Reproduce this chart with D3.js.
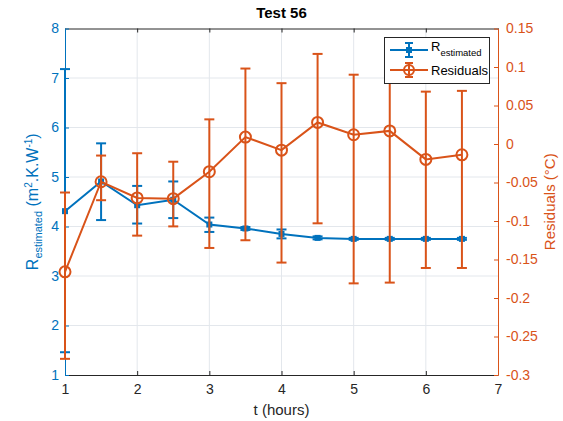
<!DOCTYPE html>
<html><head><meta charset="utf-8">
<script src="https://cdn.jsdelivr.net/npm/d3@7"></script>
<style>body{margin:0;background:#fff}svg{font-family:"Liberation Sans",Arial,sans-serif}</style>
</head><body><svg id="c" width="563" height="421"></svg>
<script>
const tHours = [1,1.5,2,2.5,3,3.5,4,4.5,5,5.5,6,6.5];
const rEst   = [4.31,4.91,4.43,4.54,4.04,3.96,3.85,3.77,3.75,3.75,3.75,3.75];
const rLow   = [1.46,4.13,4.06,4.17,3.89,3.93,3.76,3.74,3.73,3.73,3.73,3.73];
const rHigh  = [7.18,5.68,4.82,4.91,4.18,3.99,3.94,3.80,3.77,3.77,3.77,3.77];
const resid     = [-0.166,-0.049,-0.070,-0.071,-0.036,0.009,-0.008,0.028,0.012,0.017,-0.020,-0.014];
const residLow  = [-0.279,-0.073,-0.119,-0.107,-0.135,-0.125,-0.154,-0.103,-0.181,-0.180,-0.161,-0.161];
const residHigh = [-0.063,-0.015,-0.012,-0.023,0.032,0.098,0.079,0.117,0.090,0.090,0.068,0.069];
const xTicks = [1,2,3,4,5,6,7];
const yLeftTicks = [1,2,3,4,5,6,7,8];
const yRightTicks = [-0.3,-0.25,-0.2,-0.15,-0.1,-0.05,0,0.05,0.1,0.15];

const blue="#0072BD", orange="#D95319", dark="#262626";
const svg=d3.select("#c");
const L=65,R=498,T=28.5,B=375;
const x=d3.scaleLinear().domain([1,7]).range([L,R]);
const yL=d3.scaleLinear().domain([1,8]).range([B,T]);
const yR=d3.scaleLinear().domain([-0.3,0.15]).range([B,T]);

// grid
const g=svg.append("g");
g.selectAll(".gx").data(xTicks.slice(1,-1)).join("line").attr("x1",d=>x(d)).attr("x2",d=>x(d)).attr("y1",T).attr("y2",B).attr("stroke","#e3e7ec").attr("stroke-width",1);
g.selectAll(".gy").data(yLeftTicks.slice(1,-1)).join("line").attr("y1",d=>yL(d)).attr("y2",d=>yL(d)).attr("x1",L).attr("x2",R).attr("stroke","#e3e7ec").attr("stroke-width",1);

// axes
const xa=svg.append("g").attr("transform",`translate(0,${B})`).call(d3.axisBottom(x).tickValues(xTicks).tickFormat(d3.format("d")).tickSizeInner(-4).tickSizeOuter(0).tickPadding(9));
xa.select(".domain").attr("stroke",dark);
xa.selectAll("line").attr("stroke",dark);
xa.selectAll("text").attr("fill",dark).attr("font-size",14);
const xt=svg.append("g").attr("transform",`translate(0,${T})`).call(d3.axisTop(x).tickValues(xTicks).tickFormat("").tickSizeInner(-4).tickSizeOuter(0));
xt.select(".domain").attr("stroke",dark);
xt.selectAll("line").attr("stroke",dark);

const la=svg.append("g").attr("transform",`translate(${L},0)`).call(d3.axisLeft(yL).tickValues(yLeftTicks).tickFormat(d3.format("d")).tickSizeInner(-4).tickSizeOuter(0).tickPadding(6));
la.select(".domain").attr("stroke",blue);
la.selectAll("line").attr("stroke",blue);
la.selectAll("text").attr("fill",blue).attr("font-size",14);

const ra=svg.append("g").attr("transform",`translate(${R},0)`).call(d3.axisRight(yR).tickValues(yRightTicks).tickFormat(d=>d===0?"0":String(d)).tickSizeInner(-4).tickSizeOuter(0).tickPadding(8));
ra.select(".domain").attr("stroke",orange);
ra.selectAll("line").attr("stroke",orange);
ra.selectAll("text").attr("fill",orange).attr("font-size",14);

// title & labels
svg.append("text").attr("x",(L+R)/2).attr("y",18).attr("text-anchor","middle").attr("font-weight","bold").attr("font-size",15).attr("fill","#000").text("Test 56");
svg.append("text").attr("x",(L+R)/2).attr("y",415).attr("text-anchor","middle").attr("font-size",15).attr("fill",dark).text("t (hours)");
const yl=svg.append("text").attr("transform",`translate(38,${(T+B)/2}) rotate(-90)`).attr("text-anchor","middle").attr("font-size",16).attr("fill",blue);
yl.append("tspan").text("R");
yl.append("tspan").attr("font-size",11).attr("dy",4).text("estimated");
yl.append("tspan").attr("dy",-4).text(" (m");
yl.append("tspan").attr("font-size",10).attr("dy",-6).text("2");
yl.append("tspan").attr("dy",6).text(".K.W");
yl.append("tspan").attr("font-size",10).attr("dy",-6).text("-1");
yl.append("tspan").attr("dy",6).text(")");
svg.append("text").attr("transform",`translate(555,${(T+B)/2}) rotate(-90)`).attr("text-anchor","middle").attr("font-size",15).attr("fill",orange).text("Residuals (°C)");

// data
const dB=tHours.map((t,i)=>({t,v:rEst[i],lo:rLow[i],hi:rHigh[i]}));
const dO=tHours.map((t,i)=>({t,v:resid[i],lo:residLow[i],hi:residHigh[i]}));

function drawSeries(data,y,color,cap,marker){
  const s=svg.append("g");
  s.append("path").datum(data).attr("d",d3.line().x(d=>x(d.t)).y(d=>y(d.v))).attr("fill","none").attr("stroke",color).attr("stroke-width",2);
  s.selectAll(".eb").data(data).join("line").attr("x1",d=>x(d.t)).attr("x2",d=>x(d.t)).attr("y1",d=>y(d.lo)).attr("y2",d=>y(d.hi)).attr("stroke",color).attr("stroke-width",2);
  ["lo","hi"].forEach(k=>{
    s.selectAll(".c"+k).data(data).join("line").attr("x1",d=>x(d.t)-cap).attr("x2",d=>x(d.t)+cap).attr("y1",d=>y(d[k])).attr("y2",d=>y(d[k])).attr("stroke",color).attr("stroke-width",2);
  });
  if(marker==="o"){
    s.selectAll(".m").data(data).join("circle").attr("cx",d=>x(d.t)).attr("cy",d=>y(d.v)).attr("r",5.5).attr("fill","none").attr("stroke",color).attr("stroke-width",2);
  } else {
    s.selectAll(".m").data(data).join("rect").attr("x",d=>x(d.t)-3).attr("y",d=>y(d.v)-3).attr("width",6).attr("height",6).attr("fill",color);
  }
}
drawSeries(dB,yL,blue,5,"s");
drawSeries(dO,yR,orange,5,"o");

// legend
const lg=svg.append("g");
lg.append("rect").attr("x",384.5).attr("y",37.5).attr("width",105).attr("height",46).attr("fill","#fff").attr("stroke",dark).attr("stroke-width",1);
const items=[{c:blue,m:"s",y:50},{c:orange,m:"o",y:70}];
items.forEach(it=>{
  lg.append("line").attr("x1",390).attr("x2",428).attr("y1",it.y).attr("y2",it.y).attr("stroke",it.c).attr("stroke-width",2);
  lg.append("line").attr("x1",409).attr("x2",409).attr("y1",it.y-7).attr("y2",it.y+7).attr("stroke",it.c).attr("stroke-width",2);
  lg.append("line").attr("x1",405).attr("x2",413).attr("y1",it.y-7).attr("y2",it.y-7).attr("stroke",it.c).attr("stroke-width",2);
  lg.append("line").attr("x1",405).attr("x2",413).attr("y1",it.y+7).attr("y2",it.y+7).attr("stroke",it.c).attr("stroke-width",2);
  if(it.m==="o") lg.append("circle").attr("cx",409).attr("cy",it.y).attr("r",5).attr("fill","none").attr("stroke",it.c).attr("stroke-width",2);
  else lg.append("rect").attr("x",406).attr("y",it.y-3).attr("width",6).attr("height",6).attr("fill",it.c);
});
const t1=lg.append("text").attr("x",431).attr("y",51).attr("font-size",13).attr("fill","#000");
t1.append("tspan").text("R");
t1.append("tspan").attr("font-size",9.5).attr("dy",5).text("estimated");
lg.append("text").attr("x",431).attr("y",75).attr("font-size",13).attr("fill","#000").text("Residuals");
</script></body></html>
